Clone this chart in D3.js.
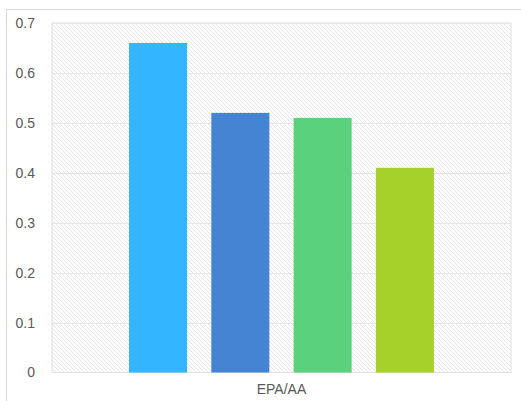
<!DOCTYPE html>
<html>
<head>
<meta charset="utf-8">
<script src="https://cdn.jsdelivr.net/npm/d3@7"></script>
<style>
  html, body { margin: 0; padding: 0; background: #ffffff; }
  svg { display: block; }
</style>
</head>
<body>
<svg id="chart" width="521" height="401"></svg>
<script>
// Chart data
const categories = ["EPA/AA"];
const seriesNames = ["S1", "S2", "S3", "S4"];
const seriesValues = [0.66, 0.52, 0.51, 0.41];
const seriesColors = ["#33b5ff", "#4584d3", "#5ad17b", "#a6d02a"];
const yTicks = [0, 0.1, 0.2, 0.3, 0.4, 0.5, 0.6, 0.7];
const yTickLabels = ["0", "0.1", "0.2", "0.3", "0.4", "0.5", "0.6", "0.7"];

const svg = d3.select("#chart");
const W = 521, H = 401;
const plot = { left: 52, right: 511, top: 23, bottom: 372.5 };

// Outer chart frame (extends past the right/bottom edges)
svg.append("rect")
  .attr("x", 6.5).attr("y", 9.5)
  .attr("width", W + 10).attr("height", H + 10)
  .attr("fill", "#ffffff")
  .attr("stroke", "#d9d9d9").attr("stroke-width", 1);

// Diagonal hatch for the plot background
const defs = svg.append("defs");
const pat = defs.append("pattern")
  .attr("id", "hatch")
  .attr("patternUnits", "userSpaceOnUse")
  .attr("width", 4).attr("height", 4);
pat.append("rect").attr("width", 4).attr("height", 4).attr("fill", "#ffffff");
pat.append("path")
  .attr("d", "M-1,-1 L5,5 M-1,3 L1,5 M3,-1 L5,1")
  .attr("stroke", "#e6e6e6").attr("stroke-width", 1);

const y = d3.scaleLinear().domain([0, 0.7]).range([plot.bottom, plot.top]);
const x0 = d3.scaleBand().domain(categories).range([plot.left, plot.right]);
const bw0 = x0.bandwidth();
const x1 = d3.scaleBand()
  .domain(seriesNames)
  .range([bw0 * 0.1414, bw0 * 0.8586])
  .paddingInner(0.295)
  .paddingOuter(0.1475);

// Plot area
svg.append("rect")
  .attr("x", plot.left).attr("y", plot.top)
  .attr("width", plot.right - plot.left).attr("height", plot.bottom - plot.top)
  .attr("fill", "url(#hatch)")
  .attr("stroke", "#e0e0e0").attr("stroke-width", 1);

// Horizontal gridlines
svg.append("g")
  .selectAll("line")
  .data(yTicks.filter(d => d > 0))
  .join("line")
  .attr("x1", plot.left).attr("x2", plot.right)
  .attr("y1", d => Math.round(y(d)) + 0.5)
  .attr("y2", d => Math.round(y(d)) + 0.5)
  .attr("stroke", "#e6e6e6").attr("stroke-width", 1);

// Y axis labels
const yAxis = d3.axisLeft(y)
  .tickValues(yTicks)
  .tickFormat((d, i) => yTickLabels[i])
  .tickSize(0)
  .tickPadding(0);
const yG = svg.append("g")
  .attr("transform", `translate(${plot.left - 17},0)`)
  .call(yAxis);
yG.select(".domain").remove();
yG.selectAll("text")
  .attr("font-family", "'Liberation Sans', Arial, sans-serif")
  .attr("font-size", 14)
  .attr("fill", "#595959");

// Bars
const rows = categories.map(c => ({ cat: c, vals: seriesNames.map((s, i) => ({ s, v: seriesValues[i], c: seriesColors[i] })) }));
svg.append("g")
  .selectAll("g")
  .data(rows)
  .join("g")
  .attr("transform", d => `translate(${x0(d.cat)},0)`)
  .selectAll("rect")
  .data(d => d.vals)
  .join("rect")
  .attr("x", d => x1(d.s))
  .attr("width", x1.bandwidth())
  .attr("y", d => y(d.v))
  .attr("height", d => y(0) - y(d.v))
  .attr("fill", d => d.c);

// X axis label
const xAxis = d3.axisBottom(x0).tickSize(0).tickPadding(0);
const xG = svg.append("g")
  .attr("transform", `translate(0,${plot.bottom + 11.5})`)
  .call(xAxis);
xG.select(".domain").remove();
xG.selectAll("text")
  .attr("font-family", "'Liberation Sans', Arial, sans-serif")
  .attr("font-size", 14)
  .attr("fill", "#595959")
  .attr("dy", "0.71em");
</script>
</body>
</html>
